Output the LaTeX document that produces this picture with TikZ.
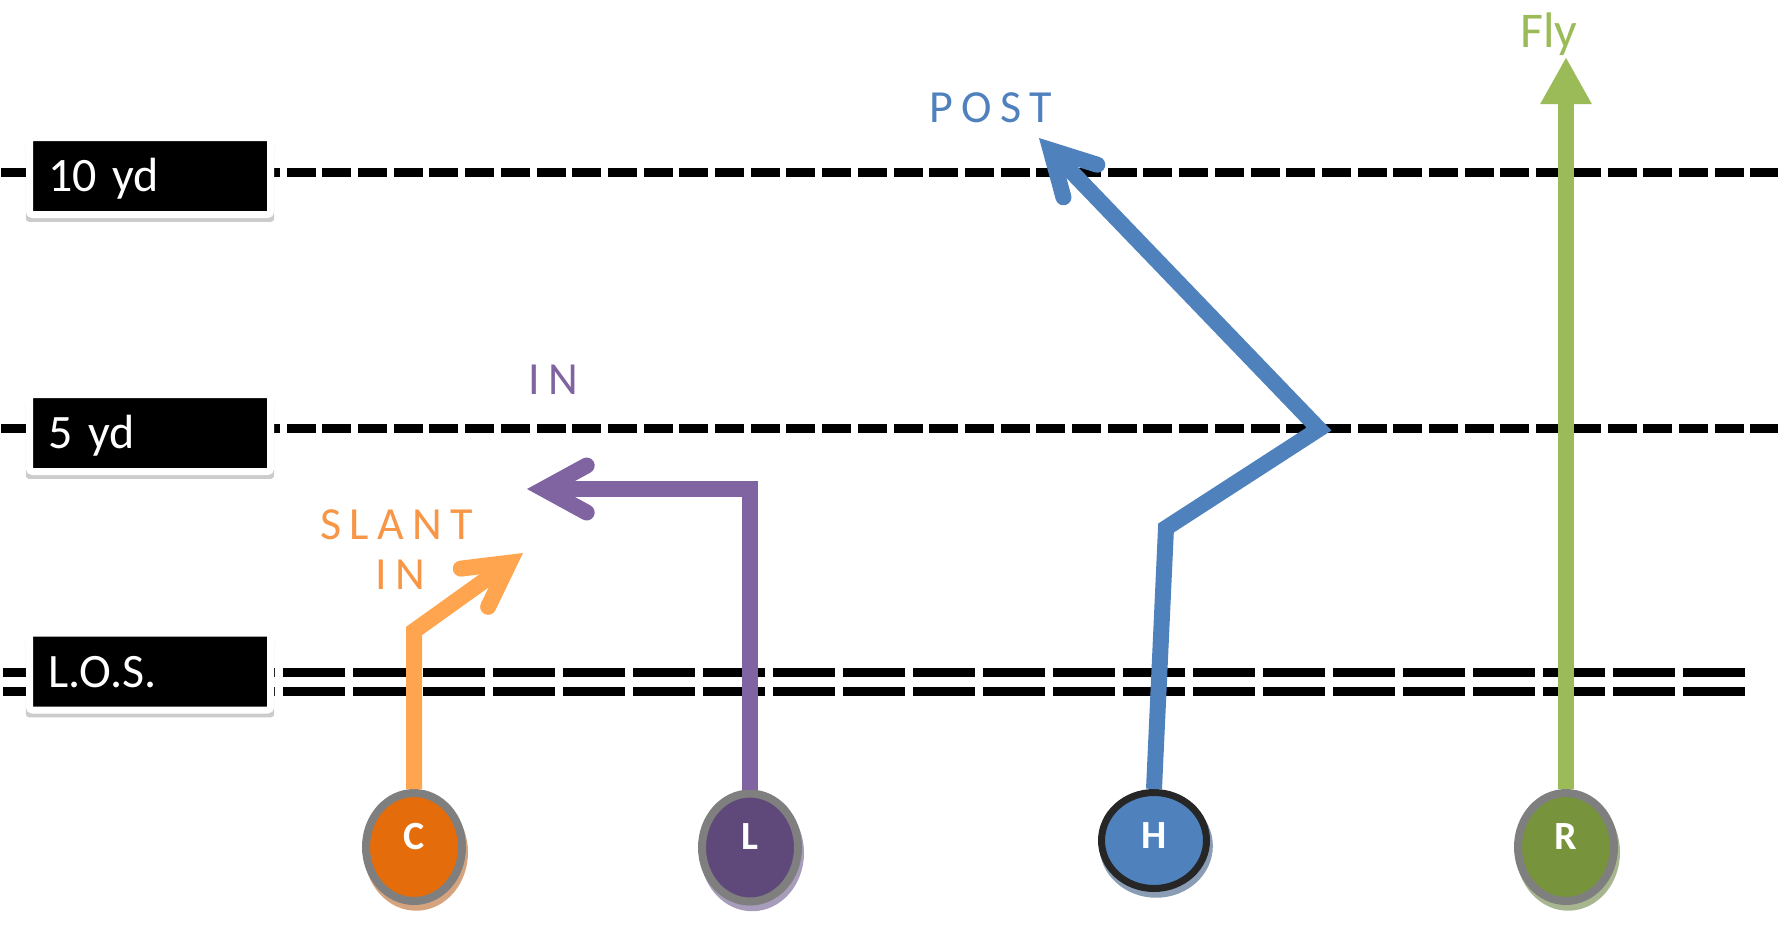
\documentclass[tikz,border=0pt]{standalone}
\usepackage{fontspec}
\setmainfont{Carlito}
\newfontfamily\trackfont[LetterSpace=18]{Carlito}
\usetikzlibrary{arrows.meta,shapes.geometric,shadows}
\definecolor{slantline}{HTML}{FFA54F}
\definecolor{slanttext}{HTML}{F79646}
\definecolor{cfill}{HTML}{E46C0A}
\definecolor{cshade}{HTML}{D5A47E}
\definecolor{inline}{HTML}{8064A2}
\definecolor{lfill}{HTML}{5F497A}
\definecolor{lshade}{HTML}{A79CBA}
\definecolor{postline}{HTML}{4F81BD}
\definecolor{hring}{HTML}{262626}
\definecolor{hshade}{HTML}{8A9DB5}
\definecolor{flyline}{HTML}{9BBB59}
\definecolor{rfill}{HTML}{77933C}
\definecolor{rshade}{HTML}{A8B690}
\definecolor{ring}{HTML}{7F7F7F}
\tikzset{yardline/.style = {line width=9.5pt, dash pattern=on 29pt off 6.7pt}}
\tikzset{losline/.style = {line width=9pt, dash pattern=on 62pt off 8pt}}
\tikzset{marker/.style = {rectangle, fill=black, draw=white, line width=7pt,
  rounded corners=3pt, minimum width=241pt, minimum height=77pt,
  inner xsep=18.5pt, text width=204pt, align=left, text=white,
  font=\fontsize{48}{48}\selectfont, text height=31pt, text depth=0pt,
  drop shadow={shadow scale=1.03, shadow xshift=0pt, shadow yshift=-6pt, opacity=0.4}}}
\tikzset{player/.style = {ellipse, inner sep=0pt, line width=8pt, draw=ring,
  minimum width=96pt, minimum height=108pt, text=white,
  font=\bfseries\fontsize{40}{40}\selectfont, text height=26pt, text depth=22pt}}
\tikzset{shade/.style = {drop shadow={fill=#1, opacity=1, shadow scale=1.08,
  shadow xshift=2pt, shadow yshift=-5pt}}}
\tikzset{route/.style = {line width=16pt, line join=miter}}
\tikzset{barb/.style = {-{Straight Barb[length=43pt, width=47pt, line cap=round]}}}
\tikzset{routetag/.style = {anchor=west, inner sep=0pt,
  font=\trackfont\fontsize{46}{46}\selectfont, text height=29.5pt, text depth=0pt}}

\begin{document}
\begin{tikzpicture}[x=1pt, y=-1pt]
\useasboundingbox (0,0) rectangle (1787,937);
% yard lines
\draw[yardline] (1,172.5) -- (1778,172.5);
\draw[yardline] (1,428.5) -- (1778,428.5);
\draw[losline] (3,672) -- (1752,672);
\draw[losline] (3,691.5) -- (1752,691.5);
\node[marker] (ten) at (150,176) {10 yd};
\node[marker] (five) at (150,433) {5 yd};
\node[marker] (los) at (150,671.5) {L.O.S.};

% players
\node[player, fill=cfill, shade=cshade] (C) at (414,847) {C};
\node[player, fill=lfill, shade=lshade] (L) at (750,847.5) {L};
\node[player, fill=postline, draw=hring, line width=7pt, shade=hshade,
  minimum width=105pt, minimum height=96pt, text depth=11pt] (H) at (1154,840.5) {H};
\node[player, fill=rfill, shade=rshade] (R) at (1566,847) {R};

% routes
\coordinate (slant turn) at (414,631);
\coordinate (slant end) at (523,553);
\draw[route, slantline, barb] (C.north) -- (slant turn) -- (slant end);
\coordinate (in turn) at (750,489);
\coordinate (in end) at (527,489);
\draw[route, inline, barb] (L.north) -- (in turn) -- (in end);
\coordinate (post stem) at (1166,528);
\coordinate (post break) at (1319,429);
\coordinate (post end) at (1039,138);
\draw[route, postline, barb] (H.north) -- (post stem) -- (post break) -- (post end);
\coordinate (fly end) at (1566,57);
\draw[route, flyline, -{Triangle[length=47pt, width=48pt]}] (R.north) -- (fly end);

% route names
\node[routetag, slanttext] (slant) at (320,525) {SLANT};
\node[routetag, slanttext] (slant in) at (375,575) {IN};
\node[routetag, inline] (in) at (528,380) {IN};
\node[routetag, postline] (post) at (929,108) {POST};
\node[anchor=west, inner sep=0pt, flyline, font=\fontsize{50}{50}\selectfont,
  text height=32pt, text depth=0pt] (fly) at (1520,31) {Fly};
\end{tikzpicture}
\end{document}
